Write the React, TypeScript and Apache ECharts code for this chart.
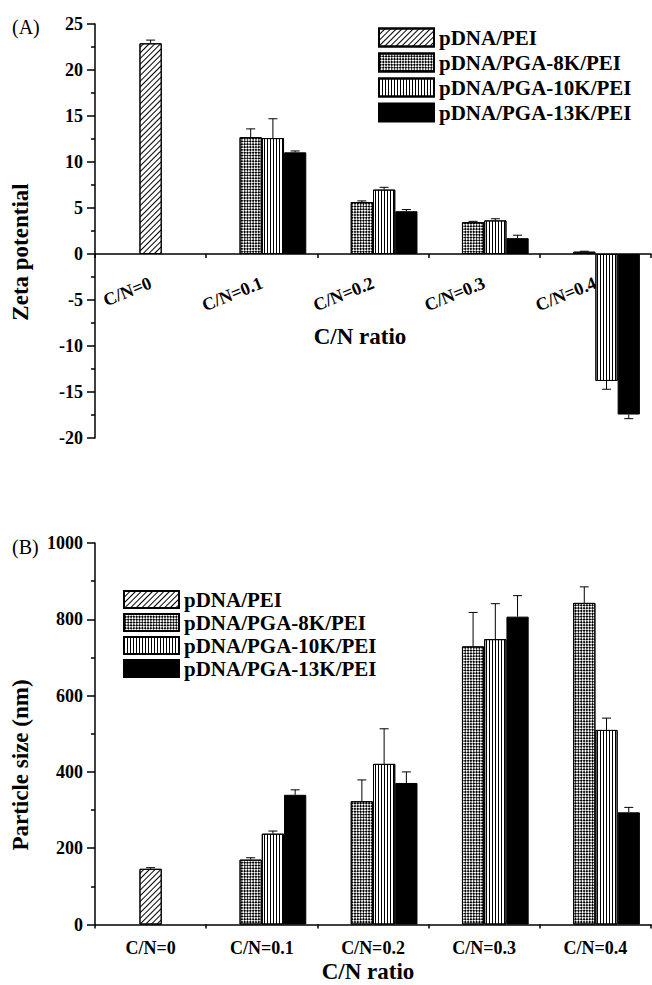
import React, { useEffect, useRef } from "react";
import * as echarts from "echarts";

const categories = ["C/N=0", "C/N=0.1", "C/N=0.2", "C/N=0.3", "C/N=0.4"];
const seriesNames = ["pDNA/PEI", "pDNA/PGA-8K/PEI", "pDNA/PGA-10K/PEI", "pDNA/PGA-13K/PEI"];

// (A) Zeta potential
const zetaPEI = [22.9, null, null, null, null];
const zeta8K = [null, 12.7, 5.65, 3.45, 0.25];
const zeta10K = [null, 12.6, 7.0, 3.65, -13.8];
const zeta13K = [null, 11.05, 4.65, 1.72, -17.45];
const zetaErrPEI = [0.35, null, null, null, null];
const zetaErr8K = [null, 0.9, 0.12, 0.1, 0.05];
const zetaErr10K = [null, 2.1, 0.25, 0.18, 0.9];
const zetaErr13K = [null, 0.15, 0.18, 0.32, 0.45];
const zetaTicks = { min: -20, max: 25, interval: 5 };

// (B) Particle size
const sizePEI = [146, null, null, null, null];
const size8K = [null, 170, 323, 729, 843];
const size10K = [null, 238, 421, 748, 510];
const size13K = [null, 340, 371, 807, 294];
const sizeErrPEI = [3, null, null, null, null];
const sizeErr8K = [null, 5, 56, 89, 42];
const sizeErr10K = [null, 7, 92, 93, 31];
const sizeErr13K = [null, 13, 29, 55, 13];
const sizeTicks = { min: 0, max: 1000, interval: 200 };

const FONT = "'Liberation Serif', 'Times New Roman', serif";

const decalDiag = { symbol: "rect", symbolSize: 1, dashArrayX: [1, 0], dashArrayY: [1, 3], rotation: -Math.PI / 4, color: "#000" };
const decalCheck = { symbol: "rect", symbolSize: 1, dashArrayX: [[2, 2], [0, 2, 2, 0]], dashArrayY: [2, 0], rotation: Math.PI / 4, color: "#000" };
const decalVert = { symbol: "rect", symbolSize: 1, dashArrayX: [1, 2], dashArrayY: [1, 0], rotation: 0, color: "#000" };

const styles = [
  { color: "#fff", borderColor: "#000", borderWidth: 1, decal: decalDiag },
  { color: "#fff", borderColor: "#000", borderWidth: 1, decal: decalCheck },
  { color: "#fff", borderColor: "#000", borderWidth: 1, decal: decalVert },
  { color: "#000", borderColor: "#000", borderWidth: 1 },
];

function errorSeries(vals: any[], errs: any[], offset: number, xAxisIndex: number, yAxisIndex: number) {
  const data: any[] = [];
  vals.forEach((v, i) => {
    if (v != null && errs[i] != null) data.push([i, v, errs[i]]);
  });
  return {
    type: "custom",
    xAxisIndex,
    yAxisIndex,
    z: 5,
    silent: true,
    encode: { x: 0, y: 1 },
    data,
    renderItem: (params: any, api: any) => {
      const i = api.value(0);
      const v = api.value(1);
      const e = api.value(2);
      const band = api.size([1, 0])[0];
      const p0 = api.coord([i, v]);
      const p1 = api.coord([i, v >= 0 ? v + e : v - e]);
      const x = p0[0] + offset * band;
      const st = { stroke: "#000", lineWidth: 1 };
      return {
        type: "group",
        children: [
          { type: "line", shape: { x1: x, y1: p0[1], x2: x, y2: p1[1] }, style: st },
          { type: "line", shape: { x1: x - 4.5, y1: p1[1], x2: x + 4.5, y2: p1[1] }, style: st },
        ],
      };
    },
  };
}

function barSeries(name: string, data: any[], idx: number, xAxisIndex: number, yAxisIndex: number) {
  return {
    type: "bar",
    name,
    data,
    xAxisIndex,
    yAxisIndex,
    barWidth: "20%",
    barGap: "0%",
    itemStyle: styles[idx],
    emphasis: { disabled: true },
  };
}

const axisLabelStyle = { color: "#000", fontFamily: FONT, fontWeight: "bold", fontSize: 18 };

export default function App() {
  const ref = useRef<HTMLDivElement>(null);
  useEffect(() => {
    if (!ref.current) return;
    const chart = echarts.init(ref.current, null, { renderer: "svg" });
    const blackLine = { color: "#000", width: 1.5 };
    const topGrid = { left: 95, top: 24, width: 556, height: 414 };
    // move the top x axis up to the zero line of the value axis
    const zeroOffset = -topGrid.height * (0 - zetaTicks.min) / (zetaTicks.max - zetaTicks.min);
    const option: any = {
      animation: false,
      backgroundColor: "#fff",
      grid: [
        topGrid,
        { left: 95, top: 543, width: 556, height: 381.5 },
      ],
      xAxis: [
        {
          gridIndex: 0, type: "category", data: categories, position: "bottom", offset: zeroOffset,
          axisLine: { onZero: false, lineStyle: blackLine },
          axisTick: { alignWithLabel: true, length: 8, lineStyle: blackLine },
          axisLabel: { ...axisLabelStyle, rotate: 22, margin: 28, interval: 0 },
          splitLine: { show: false },
        },
        {
          gridIndex: 0, type: "category", data: categories, position: "bottom", offset: zeroOffset,
          axisLine: { show: false, onZero: false },
          axisTick: { show: true, length: 4, lineStyle: blackLine },
          axisLabel: { show: false },
          splitLine: { show: false },
        },
        {
          gridIndex: 1, type: "category", data: categories, position: "bottom",
          axisLine: { onZero: false, lineStyle: blackLine },
          axisTick: { alignWithLabel: true, length: 8, lineStyle: blackLine },
          axisLabel: { ...axisLabelStyle, margin: 14, interval: 0 },
          splitLine: { show: false },
        },
        {
          gridIndex: 1, type: "category", data: categories, position: "bottom",
          axisLine: { show: false, onZero: false },
          axisTick: { show: true, length: 4, lineStyle: blackLine },
          axisLabel: { show: false },
          splitLine: { show: false },
        },
      ],
      yAxis: [
        {
          gridIndex: 0, type: "value", ...zetaTicks,
          axisLine: { show: true, onZero: false, lineStyle: blackLine },
          axisTick: { show: true, length: 8, lineStyle: blackLine },
          minorTick: { show: true, splitNumber: 2, length: 4, lineStyle: { color: "#000", width: 1.5 } },
          axisLabel: { ...axisLabelStyle, margin: 12, formatter: (v: number) => String(v) },
          splitLine: { show: false },
        },
        {
          gridIndex: 1, type: "value", ...sizeTicks,
          axisLine: { show: true, onZero: false, lineStyle: blackLine },
          axisTick: { show: true, length: 8, lineStyle: blackLine },
          minorTick: { show: true, splitNumber: 2, length: 4, lineStyle: { color: "#000", width: 1.5 } },
          axisLabel: { ...axisLabelStyle, margin: 12, formatter: (v: number) => String(v) },
          splitLine: { show: false },
        },
      ],
      legend: [
        {
          data: seriesNames, orient: "vertical", left: 378, top: 27, padding: 0,
          itemWidth: 55, itemHeight: 18, itemGap: 4, icon: "rect",
          textStyle: { color: "#000", fontFamily: FONT, fontWeight: "bold", fontSize: 21 },
          selectedMode: false,
        },
        {
          data: seriesNames, orient: "vertical", left: 123, top: 589, padding: 0,
          itemWidth: 55, itemHeight: 17, itemGap: 2, icon: "rect",
          textStyle: { color: "#000", fontFamily: FONT, fontWeight: "bold", fontSize: 21 },
          selectedMode: false,
        },
      ],
      graphic: [
        { type: "text", x: 12, y: 27, style: { text: "(A)", font: `20px ${FONT}`, fill: "#000", verticalAlign: "middle" } },
        { type: "text", x: 12, y: 547, style: { text: "(B)", font: `20px ${FONT}`, fill: "#000", verticalAlign: "middle" } },
        { type: "text", x: 360, y: 336, style: { text: "C/N ratio", font: `bold 23px ${FONT}`, fill: "#000", align: "center", verticalAlign: "middle" } },
        { type: "text", x: 368, y: 971, style: { text: "C/N ratio", font: `bold 23px ${FONT}`, fill: "#000", align: "center", verticalAlign: "middle" } },
        { type: "text", x: 20, y: 252, rotation: Math.PI / 2, style: { text: "Zeta potential", font: `bold 23px ${FONT}`, fill: "#000", align: "center", verticalAlign: "middle" } },
        { type: "text", x: 20, y: 765, rotation: Math.PI / 2, style: { text: "Particle size (nm)", font: `bold 23px ${FONT}`, fill: "#000", align: "center", verticalAlign: "middle" } },
      ],
      series: [
        barSeries(seriesNames[0], zetaPEI, 0, 1, 0),
        { ...barSeries("slot-a", [null, null, null, null, null], 0, 0, 0) },
        barSeries(seriesNames[1], zeta8K, 1, 0, 0),
        barSeries(seriesNames[2], zeta10K, 2, 0, 0),
        barSeries(seriesNames[3], zeta13K, 3, 0, 0),
        errorSeries(zetaPEI, zetaErrPEI, 0, 0, 0),
        errorSeries(zeta8K, zetaErr8K, -0.1, 0, 0),
        errorSeries(zeta10K, zetaErr10K, 0.1, 0, 0),
        errorSeries(zeta13K, zetaErr13K, 0.3, 0, 0),

        barSeries(seriesNames[0], sizePEI, 0, 3, 1),
        { ...barSeries("slot-b", [null, null, null, null, null], 0, 2, 1) },
        barSeries(seriesNames[1], size8K, 1, 2, 1),
        barSeries(seriesNames[2], size10K, 2, 2, 1),
        barSeries(seriesNames[3], size13K, 3, 2, 1),
        errorSeries(sizePEI, sizeErrPEI, 0, 2, 1),
        errorSeries(size8K, sizeErr8K, -0.1, 2, 1),
        errorSeries(size10K, sizeErr10K, 0.1, 2, 1),
        errorSeries(size13K, sizeErr13K, 0.3, 2, 1),
      ],
    };
    chart.setOption(option);
    return () => chart.dispose();
  }, []);
  return <div ref={ref} style={{ position: "absolute", left: 0, top: 0, width: 652, height: 985 }} />;
}
